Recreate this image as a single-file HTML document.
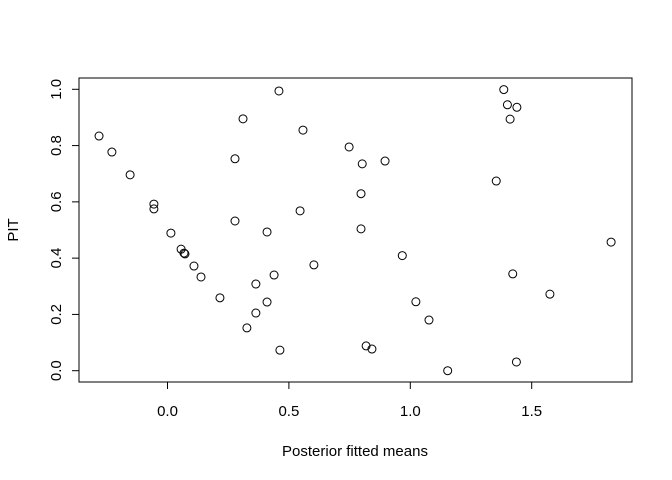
<!DOCTYPE html>
<html><head><meta charset="utf-8"><style>
body{margin:0;background:#fff}
svg{display:block;font-family:"Liberation Sans",Arial,sans-serif}
</style></head><body>
<svg id="chart" width="672" height="480">
<rect x="79" y="78" width="553" height="304" fill="none" stroke="#000" stroke-width="1"/>
<g id="xaxis"></g>
<g id="yaxis"></g>
<g id="pts"></g>
<text x="355" y="456" text-anchor="middle" font-size="15">Posterior fitted means</text>
<text transform="translate(18,230) rotate(-90)" text-anchor="middle" font-size="15">PIT</text>
</svg>
<script>
const xVals=[-0.282,-0.229,-0.154,-0.056,-0.056,0.014,0.056,0.068,0.072,0.109,0.138,0.216,0.278,0.278,0.311,0.327,0.364,0.364,0.410,0.410,0.439,0.459,0.463,0.546,0.558,0.603,0.748,0.802,0.797,0.797,0.818,0.842,0.896,0.967,1.023,1.077,1.154,1.354,1.385,1.400,1.411,1.439,1.422,1.437,1.575,1.827];
const yVals=[0.834,0.777,0.696,0.592,0.575,0.489,0.432,0.418,0.415,0.372,0.333,0.259,0.753,0.532,0.895,0.152,0.308,0.205,0.493,0.244,0.340,0.994,0.073,0.568,0.855,0.376,0.795,0.735,0.629,0.504,0.088,0.077,0.745,0.409,0.245,0.180,0.0,0.674,0.999,0.945,0.894,0.936,0.344,0.031,0.272,0.457];
const xTicks=[0,0.5,1,1.5];
const xTickLabels=["0.0","0.5","1.0","1.5"];
const yTicks=[0,0.2,0.4,0.6,0.8,1];
const yTickLabels=["0.0","0.2","0.4","0.6","0.8","1.0"];
const NS="http://www.w3.org/2000/svg";
const sx=v=>167.5+v*242.8;
const sy=v=>370.7-v*281.4;
function mk(tag,attrs,parent){const e=document.createElementNS(NS,tag);for(const k in attrs)e.setAttribute(k,attrs[k]);parent.appendChild(e);return e;}
const xg=document.getElementById('xaxis'),yg=document.getElementById('yaxis'),pg=document.getElementById('pts');
mk('line',{x1:sx(xTicks[0]),x2:sx(xTicks[xTicks.length-1]),y1:382,y2:382,stroke:'#000'},xg);
xTicks.forEach((t,i)=>{
 const l=mk('line',{x1:sx(t),x2:sx(t),y1:382,y2:389,stroke:'#000'},xg);
 
 
 const tx=mk('text',{x:sx(t),y:416,'text-anchor':'middle','font-size':15},xg);
 tx.textContent=xTickLabels[i];
 
 
});
mk('line',{x1:79,x2:79,y1:sy(yTicks[0]),y2:sy(yTicks[yTicks.length-1]),stroke:'#000'},yg);
yTicks.forEach((t,i)=>{
 const l=mk('line',{x1:72,x2:79,y1:sy(t),y2:sy(t),stroke:'#000'},yg);
 
 
 const tx=mk('text',{transform:`translate(61,${sy(t)}) rotate(-90)`,'text-anchor':'middle','font-size':15},yg);
 tx.textContent=yTickLabels[i];
 
 
});
xVals.forEach((x,i)=>{
 const c=mk('circle',{cx:sx(x),cy:sy(yVals[i]),r:4,fill:'none',stroke:'#000','stroke-width':1},pg);
 
 
});
</script>
</body></html>
